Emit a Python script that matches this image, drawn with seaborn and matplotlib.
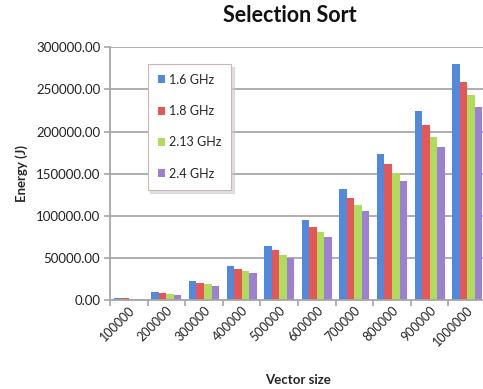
import numpy as np
import pandas as pd
import matplotlib
matplotlib.use("Agg")
import matplotlib.pyplot as plt
from matplotlib.ticker import FixedLocator, FuncFormatter
import seaborn as sns

sizes = ["100000", "200000", "300000", "400000", "500000",
         "600000", "700000", "800000", "900000", "1000000"]
freqs = ["1.6 GHz", "1.8 GHz", "2.13 GHz", "2.4 GHz"]

energy_16 = [2200, 9100, 22600, 40400, 64100, 95000, 131800, 173700, 224000, 279800]
energy_18 = [2100, 8700, 20500, 37200, 59000, 86300, 120700, 161400, 208100, 258800]
energy_213 = [1600, 7100, 18600, 34800, 53400, 80300, 112800, 150400, 193800, 243300]
energy_24 = [1500, 6300, 17000, 31700, 49500, 75200, 106000, 141300, 182000, 229500]

colors = ["#5189DC", "#E65656", "#B0DC5C", "#9D80D3"]

df = pd.DataFrame({
    "Vector size": sizes * 4,
    "Frequency": sum([[f] * len(sizes) for f in freqs], []),
    "Energy": energy_16 + energy_18 + energy_213 + energy_24,
})

sns.set_theme(style="white")
plt.rcParams["font.family"] = ["Lato", "DejaVu Sans"]

fig = plt.figure(figsize=(4.83, 3.89), dpi=100)
ax = fig.add_axes([110 / 483, 1 - 300 / 389, 376 / 483, (300 - 47.3) / 389])

sns.barplot(data=df, x="Vector size", y="Energy", hue="Frequency",
            palette=colors, order=sizes, hue_order=freqs,
            width=0.8, saturation=1, ax=ax, legend=True, zorder=3,
            edgecolor="none")

ax.set_xlim(-0.5, len(sizes) - 0.5)
ax.set_ylim(0, 300000)
ax.set_yticks(np.arange(0, 300001, 50000))
ax.yaxis.set_major_formatter(FuncFormatter(lambda v, p: f"{v:.2f}"))

# horizontal gridlines at the major y ticks, behind the bars
for yv in ax.get_yticks()[1:]:
    ax.axhline(yv, color="#a8a8a8", linewidth=1.3, zorder=1)

for side in ["top", "right"]:
    ax.spines[side].set_visible(False)
for side in ["left", "bottom"]:
    ax.spines[side].set_color("#a6a6a6")
    ax.spines[side].set_linewidth(1.3)
    ax.spines[side].set_zorder(4)

ax.tick_params(axis="y", which="major", length=4, width=1.2, color="#a6a6a6",
               direction="out", labelsize=9.5, labelcolor="#222222", pad=3, left=True)
ax.tick_params(axis="x", which="major", length=0, labelsize=9,
               labelcolor="#222222", pad=3)
ax.xaxis.set_minor_locator(FixedLocator(np.arange(-0.5, len(sizes), 1.0)))
ax.tick_params(axis="x", which="minor", length=4, width=1.2, color="#a6a6a6",
               direction="out", bottom=True)
for lab in ax.get_xticklabels():
    lab.set_rotation(45)
    lab.set_ha("right")
    lab.set_rotation_mode("anchor")

ax.set_xlabel("Vector size", fontsize=9.5, fontweight="bold", labelpad=18)
ax.set_ylabel("Energy (J)", fontsize=9.5, fontweight="bold", labelpad=6)
fig.text(0.60, 1 - 16 / 389, "Selection Sort", ha="center", va="center",
         fontsize=15.5, fontweight="bold", color="#111111")

leg = ax.legend(loc="upper left", bbox_to_anchor=(0.1, 0.935), frameon=True,
                fontsize=9, handlelength=0.6, handleheight=0.6,
                handletextpad=0.3, labelspacing=1.55, borderpad=0.8,
                borderaxespad=0, fancybox=False,
                shadow={"color": "#cccccc", "alpha": 0.6}, title=None)
leg.set_zorder(10)
leg.get_frame().set_edgecolor("#c9b5b5")
leg.get_frame().set_linewidth(0.8)
leg.get_frame().set_facecolor("white")

fig.savefig("out.png", dpi=100)
